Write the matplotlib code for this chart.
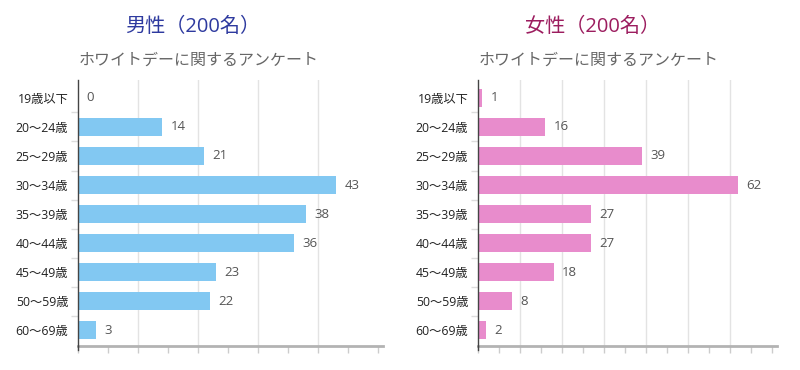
import matplotlib
matplotlib.use("Agg")
import matplotlib.pyplot as plt
import numpy as np

plt.rcParams['font.family'] = ['Open Sans', 'Noto Sans CJK JP', 'DejaVu Sans']

categories = ["19歳以下", "20〜24歳", "25〜29歳", "30〜34歳", "35〜39歳",
              "40〜44歳", "45〜49歳", "50〜59歳", "60〜69歳"]
male_values = [0, 14, 21, 43, 38, 36, 23, 22, 3]
female_values = [1, 16, 39, 62, 27, 27, 18, 8, 2]
male_title = "男性（200名）"
female_title = "女性（200名）"
subtitle = "ホワイトデーに関するアンケート"

W, H = 800, 370
fig = plt.figure(figsize=(W / 100, H / 100), dpi=100)


def px_axes(x0, x1, ytop, ybot):
    return fig.add_axes([x0 / W, (H - ybot) / H, (x1 - x0) / W, (ybot - ytop) / H])


def draw(ax, values, color, xmax, grid_max, title, title_color, xoff):
    n = len(categories)
    y = np.arange(n)
    ax.barh(y, values, height=0.64, color=color, zorder=3)
    ax.set_ylim(n - 1 + 0.54, -0.62)
    ax.set_xlim(0, xmax)
    for g in range(10, grid_max + 1, 10):
        ax.axvline(g, color="#e3e3e3", lw=1, zorder=1)
    for yi, v in zip(y, values):
        ax.annotate(str(v), (v, yi), xytext=(6, 0), textcoords="offset points",
                    va="center", ha="left", fontsize=9.5, color="#555555")
    ax.set_yticks(y)
    ax.set_yticklabels(categories, fontsize=8.8, color="#222222")
    ax.set_yticks(np.arange(n - 1) + 0.5, minor=True)
    ax.tick_params(axis="y", which="major", length=0, pad=7)
    ax.tick_params(axis="y", which="minor", length=5, color="#dddddd", width=1)
    ax.set_xticks(np.arange(0, xmax, 5))
    ax.tick_params(axis="x", which="major", length=5, color="#cccccc",
                   labelbottom=False, width=1)
    for s in ["top", "right"]:
        ax.spines[s].set_visible(False)
    ax.spines["bottom"].set_color("#b3b3b3")
    ax.spines["bottom"].set_linewidth(2)
    ax.spines["bottom"].set_zorder(4)
    ax.spines["left"].set_color("#444444")
    ax.spines["left"].set_linewidth(1)
    ax.spines["left"].set_zorder(5)
    ax.plot([0, 0], [n - 1 + 0.54, n - 1 + 0.7], color="#444444", lw=1,
            clip_on=False, zorder=5)
    fig.text((xoff + 193) / W, 1 - 27 / H, title, ha="center", va="center",
             fontsize=14.5, color=title_color)
    fig.text((xoff + 199) / W, 1 - 61 / H, subtitle, ha="center", va="center",
             fontsize=11.5, color="#666666")


ax1 = px_axes(78, 383, 80, 345.7)
draw(ax1, male_values, "#82c8f2", 305 / 6.0, 40, male_title, "#2e3a9f", 0)

ax2 = px_axes(478, 776.7, 80, 345.7)
draw(ax2, female_values, "#e88ccc", 298.7 / 4.2, 60, female_title, "#9c1d5f", 400)

fig.savefig("out.png", dpi=100)
